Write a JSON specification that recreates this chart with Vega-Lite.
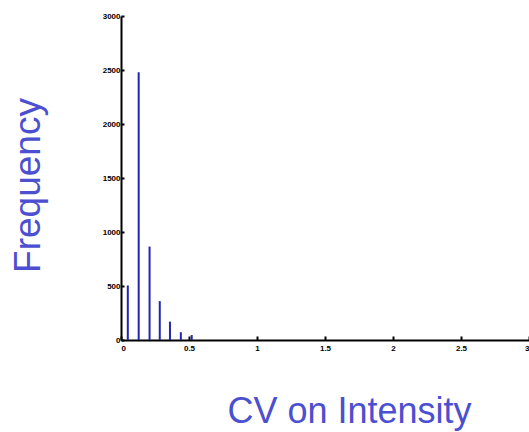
{
  "$schema": "https://vega.github.io/schema/vega-lite/v6.json",
  "autosize": "none",
  "width": 408,
  "height": 324,
  "padding": {"left": 121, "top": 16, "right": 0, "bottom": 92},
  "background": "white",
  "config": {"view": {"stroke": null}},
  "data": {"values": [
    {"cv": 0.05, "freq": 505},
    {"cv": 0.13, "freq": 2480},
    {"cv": 0.21, "freq": 865},
    {"cv": 0.285, "freq": 360},
    {"cv": 0.36, "freq": 170},
    {"cv": 0.44, "freq": 72},
    {"cv": 0.52, "freq": 46}
  ]},
  "mark": {"type": "bar", "size": 2, "color": "#2424b4"},
  "encoding": {
    "x": {
      "field": "cv", "type": "quantitative",
      "scale": {"domain": [0, 3], "nice": false, "zero": true, "padding": 0},
      "axis": {
        "values": [0, 0.5, 1, 1.5, 2, 2.5, 3],
        "format": "~g",
        "grid": false,
        "domainColor": "black", "domainWidth": 2,
        "tickColor": "black", "tickWidth": 2, "tickSize": -4,
        "labelFont": "Liberation Sans", "labelFontSize": 8, "labelFontWeight": "bold", "labelColor": "black",
        "labelPadding": 8,
        "title": "CV on Intensity",
        "titleFont": "Liberation Sans", "titleFontSize": 36, "titleFontWeight": "normal", "titleColor": "#4b4fd0",
        "titleX": 228, "titleY": 82, "titleBaseline": "alphabetic", "titleAlign": "center"
      }
    },
    "y": {
      "field": "freq", "type": "quantitative",
      "scale": {"domain": [0, 3000], "nice": false, "padding": 0},
      "axis": {
        "values": [0, 500, 1000, 1500, 2000, 2500, 3000],
        "format": "d",
        "grid": false,
        "domainColor": "black", "domainWidth": 2,
        "tickColor": "black", "tickWidth": 2, "tickSize": -3,
        "labelFont": "Liberation Sans", "labelFontSize": 8, "labelFontWeight": "bold", "labelColor": "black",
        "labelPadding": 4,
        "title": "Frequency",
        "titleFont": "Liberation Sans", "titleFontSize": 37, "titleFontWeight": "normal", "titleColor": "#4b4fd0",
        "titleX": -93, "titleY": 169, "titleAngle": -90, "titleBaseline": "middle", "titleAlign": "center"
      }
    }
  }
}
